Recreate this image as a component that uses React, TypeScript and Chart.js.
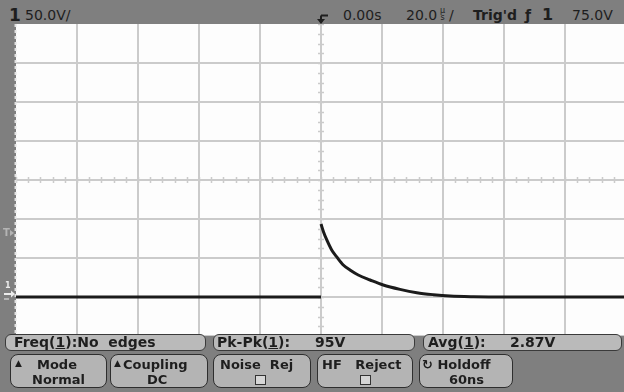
import React, { useEffect, useRef } from "react";
import { Chart, registerables } from "chart.js";

Chart.register(...registerables);

// ---- axis settings (oscilloscope: 20 µs/div, 50 V/div) ----
const timeMin = -100;
const timeMax = 99.34;
const timePerDiv = 20;
const voltMin = -50;
const voltMax = 350;
const voltPerDiv = 50;
const centerTime = 0;
const centerVolt = 150;

// ---- trace data ----
const baselineTimes = [-100, 0];
const baselineVolts = [0, 0];
const decayTimes = [0, 0.8, 1.9, 3.5, 5.1, 7.3, 9.5, 12.2, 16.1, 20.4, 25.9, 31.4, 36.8, 42.3, 50, 60, 99.34];
const decayVolts = [93.6, 83.7, 73.1, 60.3, 51.7, 41, 34.6, 28.2, 21.8, 15.4, 9.8, 5.5, 3, 1.3, 0.4, 0, 0];

// ---- texts ----
const headerTexts = { channel: "1", scale: "50.0V/", delay: "0.00s", timebase: "20.0", trig: "Trig'd", level: "75.0V" };

const TRACE = "#1b1b1b";
const GRID = "#cbcbcb";

const scopeDecor = {
  id: "scopeDecor",
  beforeDraw(chart: any) {
    const { ctx, chartArea: a } = chart;
    ctx.save();
    ctx.fillStyle = "#fdfdfd";
    ctx.fillRect(a.left, a.top, a.right - a.left, a.bottom - a.top);
    ctx.restore();
  },
  beforeDatasetsDraw(chart: any) {
    const { ctx, chartArea: a } = chart;
    const xs = chart.scales.x;
    const ys = chart.scales.y;
    const cx = Math.round(xs.getPixelForValue(centerTime));
    const cy = Math.round(ys.getPixelForValue(centerVolt));
    ctx.save();
    ctx.strokeStyle = GRID;
    ctx.lineWidth = 1.5;
    ctx.beginPath();
    for (let t = timeMin; t <= timeMax; t += timePerDiv / 5) {
      const px = Math.round(xs.getPixelForValue(t)) + 0.5;
      ctx.moveTo(px, cy - 3);
      ctx.lineTo(px, cy + 3);
    }
    for (let v = voltMin; v <= voltMax; v += voltPerDiv / 4) {
      const py = Math.round(ys.getPixelForValue(v)) + 0.5;
      ctx.moveTo(cx - 3, py);
      ctx.lineTo(cx + 3, py);
    }
    ctx.stroke();
    // dashed left border
    ctx.strokeStyle = "#e2e2e2";
    ctx.lineWidth = 2;
    ctx.setLineDash([3, 3]);
    ctx.beginPath();
    ctx.moveTo(a.left - 0.5, a.top);
    ctx.lineTo(a.left - 0.5, a.bottom);
    ctx.stroke();
    ctx.restore();
  },
};

function T(props: { x: number; base: number; size: number; bold?: boolean; color?: string; children: any; family?: string }) {
  const { x, base, size, bold, color, children, family } = props;
  return (
    <span
      style={{
        position: "absolute",
        left: x,
        top: base - 0.846 * size,
        fontSize: size,
        lineHeight: `${size}px`,
        fontWeight: bold ? "bold" : "normal",
        color: color || "#1e1e1e",
        whiteSpace: "pre",
        fontFamily: family || "'DejaVu Sans', sans-serif",
      }}
    >
      {children}
    </span>
  );
}

function Box(props: { x: number; y: number; w: number; h: number; r: number; bg: string; border: string }) {
  const { x, y, w, h, r, bg, border } = props;
  return (
    <div
      style={{
        position: "absolute",
        left: x,
        top: y,
        width: w,
        height: h,
        boxSizing: "border-box",
        borderRadius: r,
        background: bg,
        border: `1.5px solid ${border}`,
      }}
    />
  );
}

function Check(props: { x: number; y: number }) {
  return (
    <div
      style={{
        position: "absolute",
        left: props.x,
        top: props.y,
        width: 11,
        height: 10,
        boxSizing: "border-box",
        border: "1.5px solid #333",
        background: "#d6d6d6",
      }}
    />
  );
}

export default function App() {
  const canvasRef = useRef<HTMLCanvasElement | null>(null);

  useEffect(() => {
    document.body.style.margin = "0";
    const canvas = canvasRef.current;
    if (!canvas) return;
    const chart = new Chart(canvas, {
      type: "line",
      data: {
        datasets: [
          {
            data: baselineTimes.map((t, i) => ({ x: t, y: baselineVolts[i] })),
            borderColor: TRACE,
            borderWidth: 3,
            pointRadius: 0,
            tension: 0,
          },
          {
            data: decayTimes.map((t, i) => ({ x: t, y: decayVolts[i] })),
            borderColor: TRACE,
            borderWidth: 3,
            pointRadius: 0,
            cubicInterpolationMode: "monotone",
          },
        ],
      },
      options: {
        animation: false,
        responsive: true,
        maintainAspectRatio: false,
        events: [],
        layout: { padding: { left: 16, top: 0, right: 0, bottom: 0 } },
        plugins: { legend: { display: false }, tooltip: { enabled: false } },
        scales: {
          x: {
            type: "linear",
            min: timeMin,
            max: timeMax,
            ticks: { display: false, stepSize: timePerDiv },
            grid: { color: GRID, lineWidth: 2, drawTicks: false },
            border: { display: false },
            afterBuildTicks: (s: any) => {
              s.ticks = s.ticks.filter(
                (t: any) => t.value > timeMin + 1 && Math.abs(t.value / timePerDiv - Math.round(t.value / timePerDiv)) < 1e-6
              );
            },
          },
          y: {
            type: "linear",
            min: voltMin,
            max: voltMax,
            ticks: { display: false, stepSize: voltPerDiv },
            grid: { color: GRID, lineWidth: 2, drawTicks: false },
            border: { display: false },
            afterBuildTicks: (s: any) => {
              s.ticks = s.ticks.filter((t: any) => t.value < voltMax - 1);
            },
          },
        },
      },
      plugins: [scopeDecor],
    } as any);
    return () => chart.destroy();
  }, []);

  return (
    <div style={{ position: "relative", width: 624, height: 392, background: "#7f7f7f", overflow: "hidden" }}>
      {/* header */}
      <T x={9} base={21} size={17} bold>{headerTexts.channel}</T>
      <T x={25} base={20} size={14}>{headerTexts.scale}</T>
      <svg style={{ position: "absolute", left: 0, top: 0 }} width={624} height={24}>
        <path d="M321 15.5 H328 M321 15.5 V21" stroke="#1e1e1e" strokeWidth={2} fill="none" />
        <path d="M317 19 L325 19 L321 24 Z" fill="#1e1e1e" />
      </svg>
      <T x={343} base={20} size={14}>{headerTexts.delay}</T>
      <T x={406} base={20} size={14}>{headerTexts.timebase}</T>
      <span style={{ position: "absolute", left: 440, top: 7, fontSize: 8, lineHeight: "7px", color: "#1e1e1e", fontFamily: "'DejaVu Sans', sans-serif", textAlign: "center" }}>
        µ<br />s
      </span>
      <T x={449} base={20} size={14}>/</T>
      <T x={473} base={20} size={14} bold>{headerTexts.trig}</T>
      <T x={525} base={20} size={14} bold>ƒ</T>
      <T x={542} base={21} size={16} bold>1</T>
      <T x={572} base={20} size={14}>{headerTexts.level}</T>

      {/* plot */}
      <div style={{ position: "absolute", left: 0, top: 24, width: 624, height: 312 }}>
        <canvas ref={canvasRef} />
      </div>

      {/* left strip markers */}
      <T x={3} base={236} size={10} bold color="#b4b4b4">T</T>
      <svg style={{ position: "absolute", left: 0, top: 220 }} width={16} height={90}>
        <path d="M10 10 L14 13 L10 16 Z" fill="#b4b4b4" />
        <path d="M4 74 H11" stroke="#ececec" strokeWidth={2} />
        <path d="M11 70.5 L15 74 L11 77.5 Z" fill="#ececec" />
        <path d="M4 79 H9" stroke="#ececec" strokeWidth={1} />
      </svg>
      <T x={5} base={289} size={8} bold color="#ececec">1</T>

      {/* status row */}
      <Box x={5} y={334} w={201} h={17} r={6} bg="#bababa" border="#3a3a3a" />
      <Box x={213} y={334} w={202} h={17} r={6} bg="#bababa" border="#3a3a3a" />
      <Box x={423} y={334} w={199} h={17} r={6} bg="#bababa" border="#3a3a3a" />
      <T x={14} base={347} size={14} bold>Freq(<u>1</u>):No  edges</T>
      <T x={217} base={347} size={14} bold>Pk-Pk(<u>1</u>):</T>
      <T x={315} base={347} size={14} bold>95V</T>
      <T x={428} base={347} size={14} bold>Avg(<u>1</u>):</T>
      <T x={510} base={347} size={14} bold>2.87V</T>

      {/* softkeys */}
      <Box x={10} y={354} w={97} h={34} r={8} bg="#b4b4b4" border="#2e2e2e" />
      <Box x={110} y={354} w={98} h={34} r={8} bg="#b4b4b4" border="#2e2e2e" />
      <Box x={213} y={354} w={98} h={34} r={8} bg="#b4b4b4" border="#2e2e2e" />
      <Box x={317} y={354} w={96} h={34} r={8} bg="#b4b4b4" border="#2e2e2e" />
      <Box x={419} y={354} w={94} h={34} r={8} bg="#b4b4b4" border="#2e2e2e" />

      <T x={15} base={367} size={9}>▲</T>
      <T x={37} base={369} size={13} bold>Mode</T>
      <T x={32} base={384} size={13} bold>Normal</T>

      <T x={114} base={367} size={9}>▲</T>
      <T x={123} base={369} size={13} bold>Coupling</T>
      <T x={147} base={384} size={13} bold>DC</T>

      <T x={220} base={369} size={13} bold>Noise  Rej</T>
      <Check x={255} y={375} />

      <T x={322} base={369} size={13} bold>HF   Reject</T>
      <Check x={360} y={375} />

      <T x={422} base={369} size={13} bold>↻ Holdoff</T>
      <T x={449} base={384} size={13} bold>60ns</T>
    </div>
  );
}
